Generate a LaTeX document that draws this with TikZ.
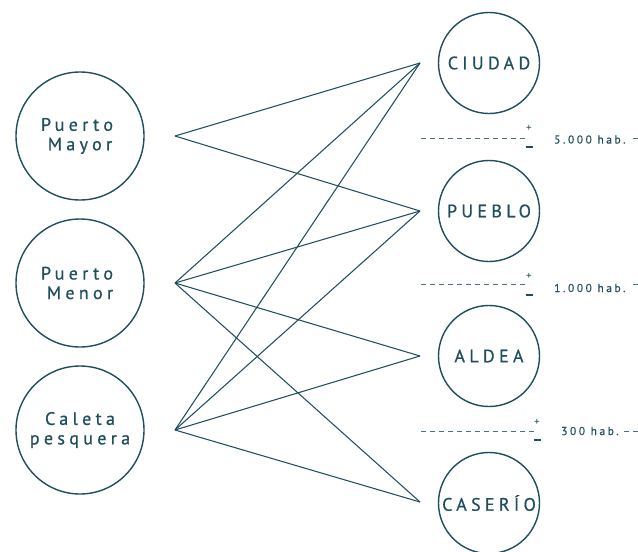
\documentclass[tikz,border=0pt]{standalone}
\usepackage{fontspec}
\setmainfont{PT Sans}
\newfontfamily\lblfont[LetterSpace=24,FakeBold=0.6]{PT Sans}
\newfontfamily\habfont[LetterSpace=22,FakeBold=0.4]{PT Sans}
\definecolor{ink}{HTML}{1F4E5E}
\begin{document}
\begin{tikzpicture}[x=1pt,y=-1pt,
  bigcirc/.style={circle,draw=ink,line width=1.4pt,minimum size=128pt,inner sep=0pt,text=ink,align=center,font=\lblfont\fontsize{18}{19.5}\selectfont},
  smallcirc/.style={circle,draw=ink,line width=1.4pt,minimum size=101pt,inner sep=0pt,text=ink,align=center,font=\lblfont\fontsize{18}{19.5}\selectfont},
  link/.style={draw=ink,line width=1.05pt},
  limit/.style={draw=ink!80,line width=1pt,dash pattern=on 5pt off 4pt},
  habtext/.style={text=ink,font=\habfont\fontsize{11.5}{12}\selectfont,inner sep=0pt,anchor=west},
  sign/.style={text=ink,font=\fontsize{11}{11}\selectfont,inner sep=0pt}]
\clip (0,0) rectangle (638,552);
\fill[white] (0,0) rectangle (638,552);
% left circles
\node[bigcirc] (pmayor) at (80,136) {\hspace*{-6pt}Puerto\\Mayor};
\node[bigcirc] (pmenor) at (80,283) {\hspace*{-6pt}Puerto\\Menor};
\node[bigcirc] (caleta) at (80,430) {Caleta\\pesquera};
% right circles
\node[smallcirc] (ciudad) at (489,63) {CIUDAD};
\node[smallcirc] (pueblo) at (489,211) {PUEBLO};
\node[smallcirc] (aldea) at (489,356) {ALDEA};
\node[smallcirc] (caserio) at (489,503) {CASERÍO};
% connector ends
\coordinate (lmayor) at (175,136);
\coordinate (lmenor) at (175,283);
\coordinate (lcaleta) at (175,430);
\coordinate (rciudad) at (420,63);
\coordinate (rpueblo) at (420,211);
\coordinate (raldea) at (420,356);
\coordinate (rcaserio) at (420,502);
\draw[link] (lmayor) -- (rciudad);
\draw[link] (lmayor) -- (rpueblo);
\draw[link] (lmenor) -- (rciudad);
\draw[link] (lmenor) -- (rpueblo);
\draw[link] (lmenor) -- (raldea);
\draw[link] (lmenor) -- (rcaserio);
\draw[link] (lcaleta) -- (rciudad);
\draw[link] (lcaleta) -- (rpueblo);
\draw[link] (lcaleta) -- (raldea);
\draw[link] (lcaleta) -- (rcaserio);
% thresholds
\coordinate (a1) at (421,138); \coordinate (a2) at (529,138);
\draw[limit] (a1) -- (a2);
\node[sign] (ap) at (529,128) {+};
\node[sign] (am) at (529,147) {\rule{7pt}{1.1pt}};
\node[habtext] (at) at (554,139.5) {5.000 hab.};
\coordinate (a3) at (633,138); \coordinate (a4) at (660,138);
\draw[limit] (a3) -- (a4);

\coordinate (b1) at (421,284); \coordinate (b2) at (529,284);
\draw[limit] (b1) -- (b2);
\node[sign] (bp) at (529,276) {+};
\node[sign] (bm) at (529,295) {\rule{7pt}{1.1pt}};
\node[habtext] (bt) at (554,288) {1.000 hab.};
\coordinate (b3) at (633,284); \coordinate (b4) at (660,284);
\draw[limit] (b3) -- (b4);

\coordinate (c1) at (421,431); \coordinate (c2) at (537,431);
\draw[limit] (c1) -- (c2);
\node[sign] (cp) at (537,422) {+};
\node[sign] (cm) at (537,440) {\rule{7pt}{1.1pt}};
\node[habtext] (ct) at (561,431) {300 hab.};
\coordinate (c3) at (624,431); \coordinate (c4) at (660,431);
\draw[limit] (c3) -- (c4);
\end{tikzpicture}
\end{document}
